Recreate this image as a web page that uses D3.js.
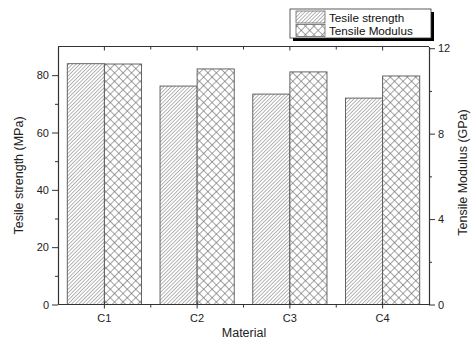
<!DOCTYPE html>
<html>
<head>
<meta charset="utf-8">
<script src="https://cdn.jsdelivr.net/npm/d3@7"></script>
<style>
  html, body { margin: 0; padding: 0; background: #fff; }
  svg { display: block; font-family: "Liberation Sans", Arial, sans-serif; }
</style>
</head>
<body>
<svg id="chart" width="471" height="342"></svg>
<script>
const categories = ["C1", "C2", "C3", "C4"];
const tensileStrength = [84, 76.2, 73.4, 72.0];      // MPa (left axis)
const tensileModulus = [11.26, 11.03, 10.89, 10.70]; // GPa (right axis)
const leftTicks = [0, 20, 40, 60, 80];
const rightTicks = [0, 4, 8, 12];
const seriesNames = ["Tesile strength", "Tensile Modulus"];

const svg = d3.select("#chart");
const L = 58, R = 429, T = 46.5, B = 304.5;

// patterns
const defs = svg.append("defs");
const hatch = defs.append("pattern").attr("id", "hatch")
  .attr("patternUnits", "userSpaceOnUse").attr("width", 2.6).attr("height", 2.6)
  .attr("patternTransform", "rotate(45)");
hatch.append("rect").attr("width", 2.6).attr("height", 2.6).attr("fill", "#fff");
hatch.append("line").attr("x1", 0).attr("y1", 0).attr("x2", 0).attr("y2", 2.6)
  .attr("stroke", "#7a7a7a").attr("stroke-width", 1.1);

const cross = defs.append("pattern").attr("id", "cross")
  .attr("patternUnits", "userSpaceOnUse").attr("width", 6).attr("height", 6)
  .attr("patternTransform", "rotate(45)");
cross.append("rect").attr("width", 6).attr("height", 6).attr("fill", "#fff");
cross.append("line").attr("x1", 0).attr("y1", 0).attr("x2", 0).attr("y2", 6)
  .attr("stroke", "#666").attr("stroke-width", 1.2);
cross.append("line").attr("x1", 0).attr("y1", 0).attr("x2", 6).attr("y2", 0)
  .attr("stroke", "#666").attr("stroke-width", 1.2);

const x = d3.scaleBand().domain(categories).range([L, R]).paddingInner(0.2).paddingOuter(0.1);
const xi = d3.scaleBand().domain([0, 1]).range([0, x.bandwidth()]);
const yL = d3.scaleLinear().domain([0, 90]).range([B, T]);
const yR = d3.scaleLinear().domain([0, 12.08]).range([B, T]);

// bars
const g = svg.append("g");
categories.forEach((c, i) => {
  g.append("rect")
    .attr("x", x(c) + xi(0)).attr("width", xi.bandwidth())
    .attr("y", yL(tensileStrength[i])).attr("height", B - yL(tensileStrength[i]))
    .attr("fill", "url(#hatch)").attr("stroke", "#555").attr("stroke-width", 0.9);
  g.append("rect")
    .attr("x", x(c) + xi(1)).attr("width", xi.bandwidth())
    .attr("y", yR(tensileModulus[i])).attr("height", B - yR(tensileModulus[i]))
    .attr("fill", "url(#cross)").attr("stroke", "#555").attr("stroke-width", 0.9);
});

const axisColor = "#333";
function styleAxis(sel) {
  sel.selectAll(".domain").attr("stroke", axisColor).attr("stroke-width", 1.2);
  sel.selectAll(".tick line").attr("stroke", axisColor).attr("stroke-width", 1);
  sel.selectAll("text").attr("fill", "#222").attr("font-size", 11);
}

// left axis
const gl = svg.append("g").attr("transform", `translate(${L},0)`)
  .call(d3.axisLeft(yL).tickValues(leftTicks).tickSize(6).tickPadding(3).tickSizeOuter(0));
styleAxis(gl);
svg.append("g").attr("transform", `translate(${L},0)`)
  .call(d3.axisLeft(yL).tickValues([10, 30, 50, 70]).tickSize(3).tickFormat("").tickSizeOuter(0))
  .call(s => { s.select(".domain").remove(); s.selectAll("line").attr("stroke", axisColor); });

// right axis
const gr = svg.append("g").attr("transform", `translate(${R},0)`)
  .call(d3.axisRight(yR).tickValues(rightTicks).tickSize(6).tickPadding(3).tickSizeOuter(0));
styleAxis(gr);
svg.append("g").attr("transform", `translate(${R},0)`)
  .call(d3.axisRight(yR).tickValues([2, 6, 10]).tickSize(3).tickFormat("").tickSizeOuter(0))
  .call(s => { s.select(".domain").remove(); s.selectAll("line").attr("stroke", axisColor); });

// bottom axis
const gb = svg.append("g").attr("transform", `translate(0,${B})`)
  .call(d3.axisBottom(x).tickSize(4).tickPadding(6).tickSizeOuter(0));
gb.select(".domain").attr("d", `M${L},0H${R}`);
styleAxis(gb);
gb.selectAll(".tick line").attr("y1", -3);
const boundaries = categories.slice(1).map(c => x(c) - x.step() * x.paddingInner() / 2);
gb.selectAll(".minor").data(boundaries).enter().append("line")
  .attr("x1", d => d).attr("x2", d => d).attr("y1", 0).attr("y2", 3)
  .attr("stroke", axisColor);

// top axis
const gt = svg.append("g").attr("transform", `translate(0,${T})`)
  .call(d3.axisTop(x).tickSize(-4).tickFormat("").tickSizeOuter(0));
gt.select(".domain").attr("d", `M${L},0H${R}`);
styleAxis(gt);
gt.selectAll(".minor").data(boundaries).enter().append("line")
  .attr("x1", d => d).attr("x2", d => d).attr("y1", 0).attr("y2", 3)
  .attr("stroke", axisColor);

// axis titles
svg.append("text").attr("transform", `translate(23,${(T + B) / 2}) rotate(-90)`)
  .attr("text-anchor", "middle").attr("font-size", 12.5).attr("fill", "#222")
  .text("Tesile strength (MPa)");
svg.append("text").attr("transform", `translate(467,${(T + B) / 2 - 3}) rotate(-90)`)
  .attr("text-anchor", "middle").attr("font-size", 12.5).attr("fill", "#222")
  .text("Tensile Modulus (GPa)");
svg.append("text").attr("x", 244).attr("y", 337)
  .attr("text-anchor", "middle").attr("font-size", 12.5).attr("fill", "#222")
  .text("Material");

// legend
const lg = svg.append("g");
lg.append("rect").attr("x", 293).attr("y", 12).attr("width", 141).attr("height", 29).attr("fill", "#000");
lg.append("rect").attr("x", 290).attr("y", 9).attr("width", 141).attr("height", 29)
  .attr("fill", "#fff").attr("stroke", "#333").attr("stroke-width", 0.8);
const fills = ["url(#hatch)", "url(#cross)"];
seriesNames.forEach((n, i) => {
  lg.append("rect").attr("x", 296).attr("y", 11 + i * 13.5).attr("width", 29).attr("height", 12)
    .attr("fill", fills[i]).attr("stroke", "#666").attr("stroke-width", 0.8);
  lg.append("text").attr("x", 329).attr("y", 21.5 + i * 13.5)
    .attr("font-size", 11.7).attr("fill", "#111").text(n);
});
</script>
</body>
</html>
